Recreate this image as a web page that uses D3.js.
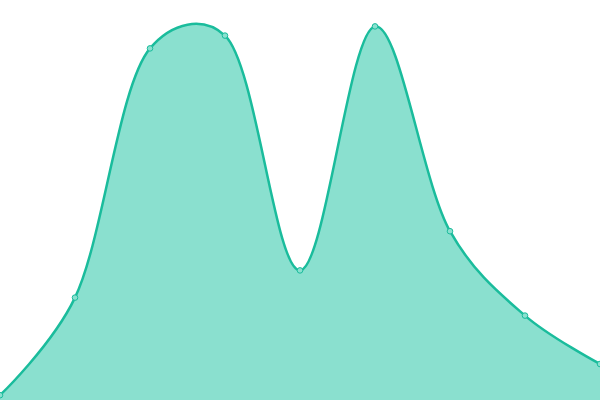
<!DOCTYPE html>
<html>
<head>
<meta charset="utf-8">
<script src="https://cdn.jsdelivr.net/npm/d3@7"></script>
<style>
  html, body { margin: 0; padding: 0; background: #fff; }
  svg { display: block; }
</style>
</head>
<body>
<svg id="chart"></svg>
<script>
// Data
const categories = ["A", "B", "C", "D", "E", "F", "G", "H", "I"];
const values = [1.2, 25.6, 87.9, 91.1, 32.4, 93.4, 42.2, 21.1, 9.0];

const width = 600;
const height = 400;

const svg = d3.select("#chart").attr("width", width).attr("height", height);

const x = d3.scalePoint().domain(categories).range([0, width]);
const y = d3.scaleLinear().domain([0, 100]).range([height, 0]);

const points = categories.map((c, i) => ({ c, v: values[i] }));

const curve = d3.curveCatmullRom.alpha(0.3);

const area = d3.area()
    .x((d) => x(d.c))
    .y0(y(0))
    .y1((d) => y(d.v))
    .curve(curve);

const line = d3.line()
    .x((d) => x(d.c))
    .y((d) => y(d.v))
    .curve(curve);

svg.append("path")
    .datum(points)
    .attr("d", area)
    .attr("fill", "#8ae0cf");

svg.append("path")
    .datum(points)
    .attr("d", line)
    .attr("fill", "none")
    .attr("stroke", "#1abc9c")
    .attr("stroke-width", 2.5);

svg.append("g")
    .selectAll("circle")
    .data(points)
    .join("circle")
    .attr("cx", (d) => x(d.c))
    .attr("cy", (d) => y(d.v))
    .attr("r", 2.8)
    .attr("fill", "#8ae0cf")
    .attr("stroke", "#1abc9c")
    .attr("stroke-width", 1);
</script>
</body>
</html>
